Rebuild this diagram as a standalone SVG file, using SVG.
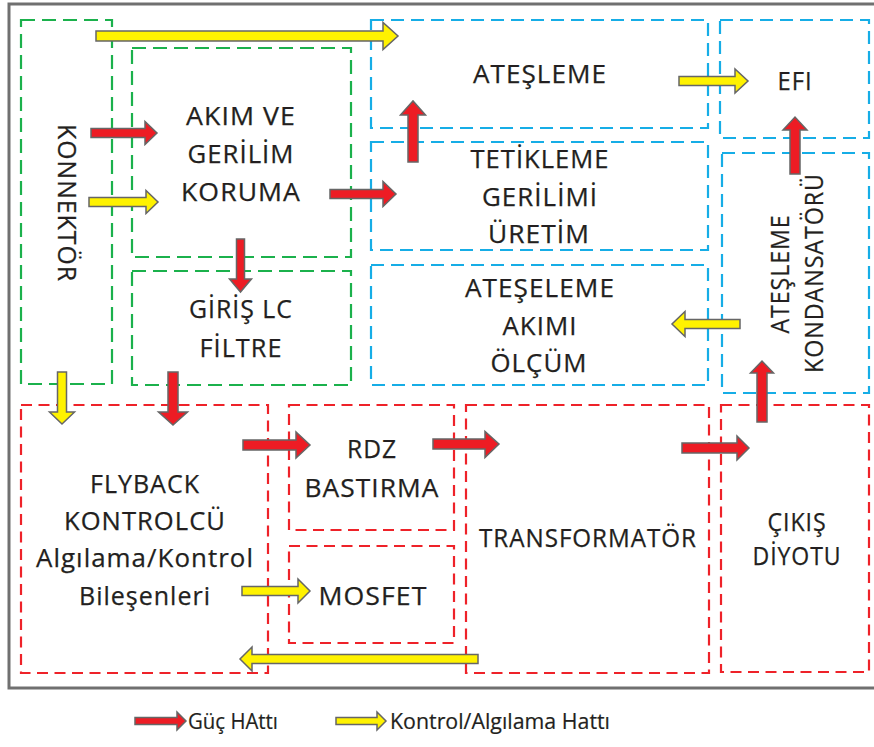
<svg xmlns="http://www.w3.org/2000/svg" width="874" height="747" viewBox="0 0 874 747">
  <style>
    .box { fill: none; stroke-width: 2.2; }
    .g { stroke: #1BB14C; stroke-dasharray: 14 7; }
    .b { stroke: #16ADE6; stroke-dasharray: 13 7; }
    .r { stroke: #EE2229; stroke-dasharray: 11 6.5; }
    .lbl { font-family: "Open Sans", "Noto Sans", "DejaVu Sans", sans-serif; font-size: 25px; letter-spacing: 1px; fill: #231F20; stroke: #231F20; stroke-width: 0.25; text-anchor: middle; }
    .leg { font-family: "Open Sans", "Noto Sans", "DejaVu Sans", sans-serif; font-size: 22px; fill: #231F20; stroke: #231F20; stroke-width: 0.2; }
    .pw { fill: #ED1C24; stroke: #666666; stroke-width: 1.5; stroke-linejoin: miter; }
    .ct { fill: #FFF200; stroke: #666666; stroke-width: 1.5; stroke-linejoin: miter; }
  </style>

  <rect x="0" y="0" width="874" height="747" fill="#FFFFFF"/>
  <!-- outer frame -->
  <rect x="9" y="4" width="870" height="684" fill="none" stroke="#707070" stroke-width="3"/>

  <!-- input stage (green) -->
  <g id="konnektor">
    <rect class="box g" x="21" y="20" width="91" height="364"/>
    <text class="lbl" transform="translate(57.5,203) rotate(90)" textLength="158" lengthAdjust="spacingAndGlyphs">KONNEKTÖR</text>
  </g>
  <g id="akim-gerilim-koruma">
    <rect class="box g" x="132" y="48" width="219" height="209"/>
    <text class="lbl" x="241" y="125" textLength="110" lengthAdjust="spacingAndGlyphs">AKIM VE</text>
    <text class="lbl" x="241" y="163" textLength="107" lengthAdjust="spacingAndGlyphs">GERİLİM</text>
    <text class="lbl" x="241" y="201" textLength="120" lengthAdjust="spacingAndGlyphs">KORUMA</text>
  </g>
  <g id="giris-lc-filtre">
    <rect class="box g" x="132" y="271" width="219" height="114"/>
    <text class="lbl" x="241" y="318" textLength="104" lengthAdjust="spacingAndGlyphs">GİRİŞ LC</text>
    <text class="lbl" x="241" y="357" textLength="83" lengthAdjust="spacingAndGlyphs">FİLTRE</text>
  </g>

  <!-- ignition stage (blue) -->
  <g id="atesleme">
    <rect class="box b" x="371" y="20" width="337" height="108"/>
    <text class="lbl" x="540" y="83" textLength="134" lengthAdjust="spacingAndGlyphs">ATEŞLEME</text>
  </g>
  <g id="tetikleme">
    <rect class="box b" x="371" y="142" width="337" height="108"/>
    <text class="lbl" x="540" y="168" textLength="139" lengthAdjust="spacingAndGlyphs">TETİKLEME</text>
    <text class="lbl" x="540" y="206" textLength="116" lengthAdjust="spacingAndGlyphs">GERİLİMİ</text>
    <text class="lbl" x="539" y="243" textLength="102" lengthAdjust="spacingAndGlyphs">ÜRETİM</text>
  </g>
  <g id="akim-olcum">
    <rect class="box b" x="371" y="265" width="337" height="120"/>
    <text class="lbl" x="540" y="297" textLength="150" lengthAdjust="spacingAndGlyphs">ATEŞELEME</text>
    <text class="lbl" x="540" y="335" textLength="75" lengthAdjust="spacingAndGlyphs">AKIMI</text>
    <text class="lbl" x="539" y="372" textLength="97" lengthAdjust="spacingAndGlyphs">ÖLÇÜM</text>
  </g>
  <g id="efi">
    <rect class="box b" x="720" y="20" width="149" height="118"/>
    <text class="lbl" x="795" y="90" textLength="35" lengthAdjust="spacingAndGlyphs">EFI</text>
  </g>
  <g id="atesleme-kondansatoru">
    <rect class="box b" x="722" y="153" width="147" height="240"/>
    <text class="lbl" transform="translate(789,274) rotate(-90)" textLength="119" lengthAdjust="spacingAndGlyphs">ATEŞLEME</text>
    <text class="lbl" transform="translate(823,273) rotate(-90)" textLength="200" lengthAdjust="spacingAndGlyphs">KONDANSATÖRÜ</text>
  </g>

  <!-- flyback converter stage (red) -->
  <g id="flyback">
    <rect class="box r" x="21" y="405" width="247" height="268"/>
    <text class="lbl" x="145" y="493" textLength="110" lengthAdjust="spacingAndGlyphs">FLYBACK</text>
    <text class="lbl" x="145" y="530" textLength="162" lengthAdjust="spacingAndGlyphs">KONTROLCÜ</text>
    <text class="lbl" x="145" y="567" textLength="218" lengthAdjust="spacingAndGlyphs">Algılama/Kontrol</text>
    <text class="lbl" x="145" y="605" textLength="132" lengthAdjust="spacingAndGlyphs">Bileşenleri</text>
  </g>
  <g id="rdz-bastirma">
    <rect class="box r" x="289" y="405" width="165" height="125"/>
    <text class="lbl" x="372" y="458" textLength="50" lengthAdjust="spacingAndGlyphs">RDZ</text>
    <text class="lbl" x="372" y="497" textLength="135" lengthAdjust="spacingAndGlyphs">BASTIRMA</text>
  </g>
  <g id="mosfet">
    <rect class="box r" x="289" y="546" width="165" height="97"/>
    <text class="lbl" x="373" y="605" textLength="109" lengthAdjust="spacingAndGlyphs">MOSFET</text>
  </g>
  <g id="transformator">
    <rect class="box r" x="466" y="405" width="243" height="268"/>
    <text class="lbl" x="588" y="547" textLength="218" lengthAdjust="spacingAndGlyphs">TRANSFORMATÖR</text>
  </g>
  <g id="cikis-diyotu">
    <rect class="box r" x="721" y="405" width="148" height="267"/>
    <text class="lbl" x="797" y="531" textLength="59" lengthAdjust="spacingAndGlyphs">ÇIKIŞ</text>
    <text class="lbl" x="797" y="565" textLength="89" lengthAdjust="spacingAndGlyphs">DİYOTU</text>
  </g>

  <!-- power (red) and control/sense (yellow) lines -->
  <g id="connectors">
    <polygon class="ct" points="96,31 383,31 383,22.5 398,36 383,49.5 383,41 96,41"/>
    <polygon class="pw" points="91,128.5 145,128.5 145,121.5 157,133 145,144.5 145,137.5 91,137.5"/>
    <polygon class="ct" points="89,197.5 146,197.5 146,190.5 158,202 146,213.5 146,206.5 89,206.5"/>
    <polygon class="pw" points="330,189.5 383,189.5 383,181.5 396,194 383,206.5 383,198.5 330,198.5"/>
    <polygon class="pw" points="408,162 408,115 400.5,115 413,101 425.5,115 418,115 418,162"/>
    <polygon class="ct" points="679,76.5 735,76.5 735,69 748,81 735,93 735,85.5 679,85.5"/>
    <polygon class="pw" points="790,174 790,130 783,130 795,117 807,130 800,130 800,174"/>
    <polygon class="ct" points="740,319.5 685,319.5 685,311.5 672,324 685,336.5 685,328.5 740,328.5"/>
    <polygon class="pw" points="757,422 757,373 750.5,373 762,361 773.5,373 767,373 767,422"/>
    <polygon class="ct" points="57.5,372 66.5,372 66.5,412 74.5,412 62,424 49.5,412 57.5,412"/>
    <polygon class="pw" points="168,372 178,372 178,412 187.5,412 173,425 158.5,412 168,412"/>
    <polygon class="pw" points="236.5,239 244.5,239 244.5,279 251.5,279 240.5,292 229.5,279 236.5,279"/>
    <polygon class="pw" points="243,440 296,440 296,432 310,445 296,458 296,450 243,450"/>
    <polygon class="pw" points="433,439 485,439 485,431.5 499,444 485,457.5 485,449 433,449"/>
    <polygon class="pw" points="682,443 737,443 737,436 749,448 737,460 737,453 682,453"/>
    <polygon class="ct" points="242,586.5 298,586.5 298,579 310,591 298,603 298,595.5 242,595.5"/>
    <polygon class="ct" points="478,654.5 252,654.5 252,647 240,659 252,671 252,663.5 478,663.5"/>
  </g>

  <!-- legend -->
  <g id="legend">
    <polygon class="pw" points="135,717.5 177,717.5 177,712 186,721 177,730 177,724.5 135,724.5"/>
    <text class="leg" x="188" y="729" textLength="90" lengthAdjust="spacingAndGlyphs">Güç HAttı</text>
    <polygon class="ct" points="336,717.5 377,717.5 377,712 386,721 377,730 377,724.5 336,724.5"/>
    <text class="leg" x="390" y="729" textLength="220" lengthAdjust="spacingAndGlyphs">Kontrol/Algılama Hattı</text>
  </g>
</svg>
